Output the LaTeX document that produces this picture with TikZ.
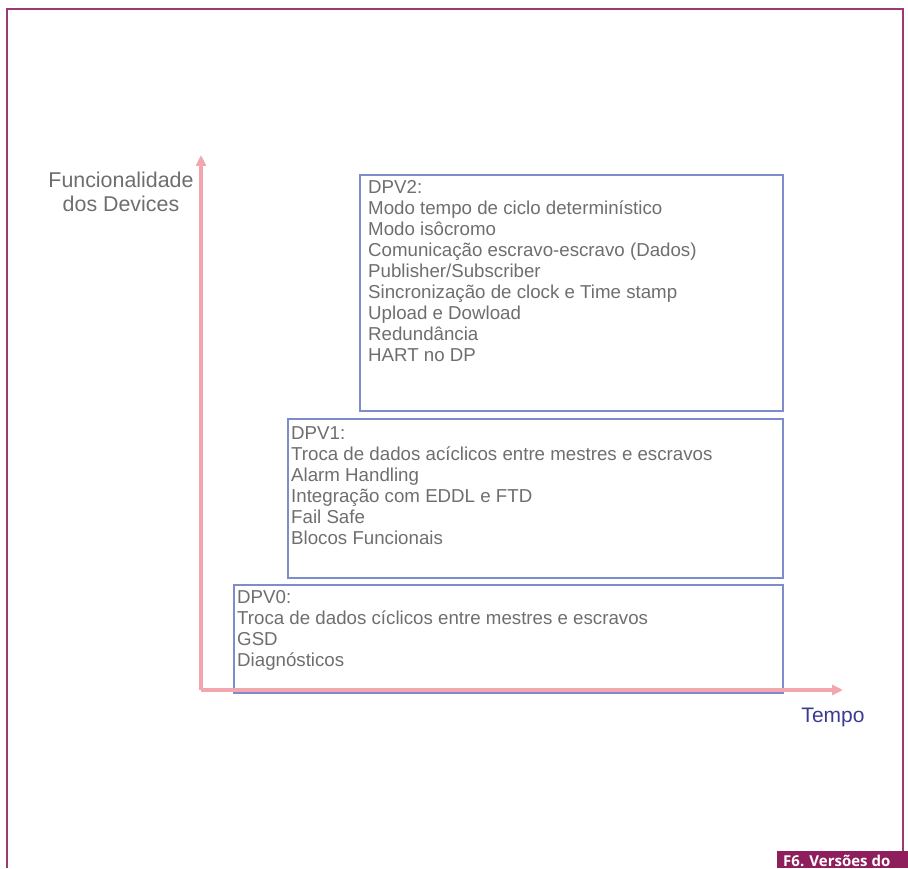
\documentclass[tikz,border=0pt]{standalone}
\usepackage{fontspec}
\setmainfont{Liberation Sans}
\newfontfamily\capfont{Open Sans}
\usetikzlibrary{arrows.meta}
\definecolor{framec}{HTML}{9E3A73}
\definecolor{axisc}{HTML}{F2A7AE}
\definecolor{boxc}{HTML}{7F8CCB}
\definecolor{textc}{HTML}{6E6E6E}
\definecolor{tempoc}{HTML}{3B3B8F}
\definecolor{capc}{HTML}{8E1E5C}
\tikzset{
  axis/.style={draw=axisc, line width=3.5pt, -{Triangle[length=11pt,width=10pt]}},
  verbox/.style={draw=boxc, line width=2.4pt, inner sep=0pt, anchor=north west},
  % multi-line texts are placed by the baseline of their last line
  vertext/.style={anchor=base west, align=left, text=textc, font=\fontsize{18.7}{21}\selectfont, inner sep=0pt},
}
\begin{document}
\begin{tikzpicture}[x=1pt,y=1pt]
\useasboundingbox (0,0) rectangle (908,868);
\begin{scope}
\clip (0,0) rectangle (908,868);
% outer frame
\draw[framec, line width=2pt] (7,0) -- (7,859) -- (903,859) -- (903,17);
% caption tab
\fill[capc] (777,0) rectangle (908,17);
\node[anchor=base west, text=white, inner sep=0pt, font=\capfont\bfseries\fontsize{15}{15}\selectfont] (cap) at (783,2) {F6. Versões do};
\end{scope}
% version boxes
\node[verbox, minimum width=423pt, minimum height=236pt] (v2) at (359,694) {};
\node[verbox, minimum width=495pt, minimum height=159pt] (v1) at (287,450) {};
\node[verbox, minimum width=549pt, minimum height=108pt] (v0) at (233,284) {};
% axes
\coordinate (o) at (201,178);
\coordinate (ytop) at (201,713);
\coordinate (xend) at (843,178);
\draw[axis] (o) -- (ytop);
\draw[axis] (o) -- (xend);
% texts
\node[vertext] (t2) at (368,506) {DPV2:\\Modo tempo de ciclo determinístico\\Modo isôcromo\\Comunicação escravo-escravo (Dados)\\Publisher/Subscriber\\Sincronização de clock e Time stamp\\Upload e Dowload\\Redundância\\HART no DP};
\node[vertext] (t1) at (291,323) {DPV1:\\Troca de dados acíclicos entre mestres e escravos\\Alarm Handling\\Integração com EDDL e FTD\\Fail Safe\\Blocos Funcionais};
\node[vertext] (t0) at (237,201) {DPV0:\\Troca de dados cíclicos entre mestres e escravos\\GSD\\Diagnósticos};
\node[anchor=base, align=center, text=textc, font=\fontsize{21.4}{24}\selectfont, inner sep=0pt] (ylab) at (121,656) {Funcionalidade\\dos Devices};
\node[anchor=base, text=tempoc, font=\fontsize{21}{21}\selectfont, inner sep=0pt] (xlab) at (833,145) {Tempo};
\end{tikzpicture}
\end{document}
